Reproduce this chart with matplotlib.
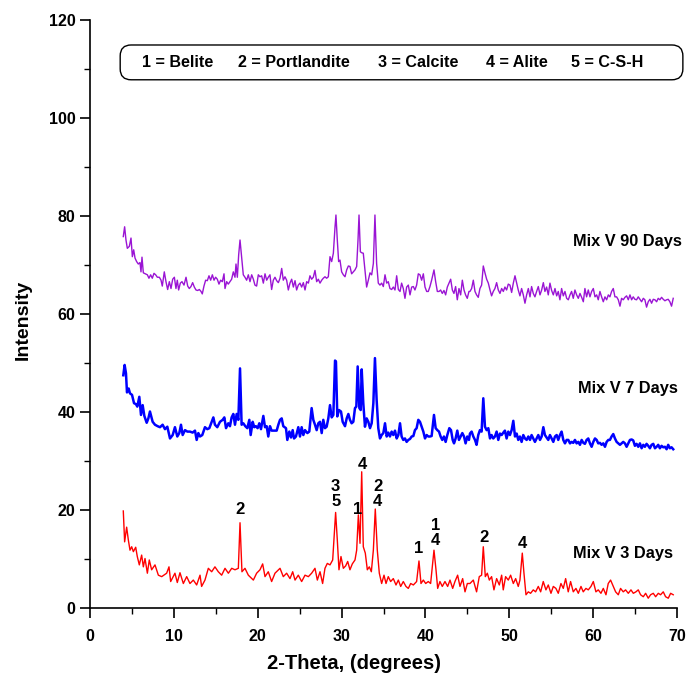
import matplotlib
matplotlib.use("Agg")
import matplotlib.pyplot as plt
from matplotlib.patches import FancyBboxPatch

plt.rcParams['font.family'] = ['Liberation Sans', 'DejaVu Sans']
plt.rcParams['font.weight'] = 'bold'

# ---- Mix V 3 days (red) ----
tt_3d = [3.97, 4.13, 4.37, 4.57, 4.77, 4.97, 5.17, 5.45, 5.64, 5.88, 6.16, 6.36, 6.56, 6.84, 7.07, 7.35, 7.75, 8.15, 8.55, 9.14,
         9.42, 9.62, 10.13, 10.41, 10.73, 11.13, 11.53, 11.92, 12.32, 12.72, 13.12, 13.31, 13.71, 14.11, 14.51, 14.9, 15.3, 15.7,
         16.1, 16.5, 16.9, 17.29, 17.69, 17.89, 18.12, 18.48, 18.88, 19.48, 19.87, 20.27, 20.59, 20.87, 21.26, 21.66, 22.06,
         22.66, 23.05, 23.45, 23.85, 24.17, 24.45, 24.84, 25.24, 25.64, 26.04, 26.43, 26.83, 27.11, 27.43, 27.74, 28.02, 28.3,
         28.62, 28.94, 29.29, 29.49, 29.69, 29.93, 30.21, 30.49, 30.73, 31.0, 31.28, 31.6, 31.8, 32.0, 32.2, 32.4, 32.59, 32.83,
         33.07, 33.31, 33.55, 33.79, 34.02, 34.26, 34.5, 34.78, 35.06, 35.3, 35.57, 35.85, 36.17, 36.49, 36.77, 37.05, 37.36,
         37.68, 37.96, 38.24, 38.56, 38.95, 39.23, 39.47, 39.75, 40.03, 40.34, 40.62, 41.02, 41.26, 41.46, 41.73, 42.01, 42.33,
         42.65, 42.93, 43.25, 43.52, 43.84, 44.12, 44.44, 44.72, 45.0,
         45.31, 45.71, 46.1, 46.42, 46.7, 46.9, 47.14, 47.38, 47.62, 47.89, 48.17, 48.49, 48.81, 49.09, 49.28, 49.56, 49.88,
         50.16, 50.48, 50.76, 51.07, 51.27, 51.55, 51.75, 51.99, 52.27, 52.54, 52.86, 53.14, 53.46, 53.74, 54.05, 54.37, 54.65,
         54.97, 55.25, 55.56, 55.84, 56.16, 56.44, 56.72, 57.03, 57.31, 57.63, 57.95, 58.23, 58.55, 58.82, 59.14, 59.42, 59.74,
         60.02, 60.33, 60.61, 60.93, 61.21, 61.53, 61.8, 62.08, 62.4, 62.68, 63.0, 63.27, 63.59, 63.87, 64.19, 64.51, 64.79,
         65.1, 65.38, 65.66, 65.98, 66.26, 66.57, 66.85, 67.17, 67.45, 67.77, 68.04, 68.36, 68.64, 68.96, 69.24, 69.55]
int_3d = [19.8, 13.5, 16.5, 13.9, 11.8, 12.5, 11.5, 12.4, 10.5, 8.8, 10.8, 8.4, 10.1, 7.1, 9.8, 7.8, 8.8, 6.7, 6.4, 7.1,
          8.4, 5.4, 7.1, 5.2, 7.2, 5.0, 6.4, 5.0, 5.7, 4.7, 6.7, 4.4, 5.7, 8.1, 7.4, 8.4, 7.4, 6.7,
          8.1, 7.1, 8.1, 7.8, 8.1, 17.4, 7.4, 8.1, 6.7, 5.7, 7.1, 7.8, 9.0, 6.4, 7.4, 5.4, 7.1,
          8.1, 6.4, 7.1, 6.0, 7.4, 5.7, 6.7, 5.4, 6.7, 6.4, 7.1, 8.1, 5.7, 7.4, 5.0, 8.1, 9.1,
          8.8, 9.8, 19.5, 13.9, 7.8, 10.5, 8.1, 8.6, 9.5, 7.8, 9.0, 9.8, 11.8, 19.0, 13.2, 27.8, 12.5, 11.2,
          7.8, 8.4, 7.4, 11.8, 20.2, 11.8, 7.1, 5.0, 6.7, 5.0, 6.4, 5.4, 6.0, 4.7, 5.7, 4.4, 5.4,
          4.4, 4.0, 5.0, 4.7, 5.4, 9.6, 5.0, 5.7, 5.0, 5.4, 5.0, 11.8, 7.8, 4.0, 5.4, 4.4, 5.4,
          4.4, 5.7, 4.0, 5.4, 6.7, 4.4, 6.0, 3.3, 5.0,
          5.0, 5.7, 3.3, 6.4, 6.7, 12.5, 6.4, 7.1, 5.7, 6.4, 3.7, 6.0, 4.7, 6.7, 3.7, 6.4, 5.7,
          6.7, 5.0, 6.0, 4.4, 5.7, 11.2, 7.1, 2.7, 3.3, 3.0, 3.7, 3.3, 4.4, 3.3, 5.4, 3.7, 4.7,
          3.0, 4.4, 4.0, 3.0, 5.0, 4.0, 6.0, 3.3, 5.4, 3.3, 4.0, 3.0, 4.4, 3.3, 4.0, 3.7, 4.4,
          5.4, 3.3, 3.7, 3.0, 4.0, 2.7, 5.0, 5.7, 4.4, 3.3, 2.7, 4.0, 3.3, 3.7, 3.0, 3.7, 3.0,
          3.3, 3.7, 2.7, 2.3, 3.0, 2.0, 2.7, 3.0, 2.3, 3.0, 2.7, 3.3, 2.3, 2.0, 3.0, 2.7]

# ---- Mix V 7 days (blue) ----
tt_7d = [3.97, 4.13, 4.29, 4.41, 4.61, 4.77, 5.01, 5.25, 5.48, 5.64, 5.88, 6.08, 6.28, 6.48, 6.76, 6.96, 7.15, 7.47, 7.75, 8.07,
         8.35, 8.66, 8.94, 9.22, 9.54, 9.86, 10.13, 10.41, 10.65, 10.85, 11.05, 11.33, 11.61, 11.92, 12.24, 12.52, 12.72, 12.92,
         13.12, 13.39, 13.71, 13.99, 14.23, 14.51, 14.71, 14.9, 15.18, 15.5, 15.82, 16.02, 16.22, 16.49, 16.69, 16.89, 17.09,
         17.29, 17.49, 17.69, 17.89, 18.08, 18.28, 18.52, 18.76, 19.0, 19.16, 19.4, 19.59, 19.79, 19.99, 20.19, 20.39, 20.67,
         20.87, 21.07, 21.26, 21.46, 21.66, 21.94, 22.26, 22.46,
         22.66, 22.86, 23.05, 23.37, 23.53, 23.77, 23.97, 24.17, 24.33, 24.56, 24.84, 25.04, 25.24, 25.44, 25.64, 25.92, 26.15,
         26.43, 26.63, 26.83, 27.03, 27.23, 27.43, 27.63, 27.82, 28.02, 28.22, 28.42, 28.62, 28.82, 29.02, 29.22, 29.33, 29.49,
         29.69, 29.93, 30.13, 30.41, 30.61, 30.81, 31.0, 31.2, 31.4, 31.6, 31.76, 31.92, 32.12, 32.28, 32.4, 32.59, 32.79, 32.99,
         33.19, 33.39, 33.59, 33.79, 33.98, 34.18, 34.38, 34.58, 34.78, 34.98, 35.18, 35.38, 35.57, 35.77, 35.97, 36.17, 36.37,
         36.57, 36.77, 36.97, 37.16, 37.36, 37.56, 37.76, 37.96, 38.16, 38.36, 38.56, 38.75, 38.95, 39.15, 39.35, 39.55, 39.75,
         39.95, 40.15, 40.34, 40.54, 40.74, 41.02, 41.22, 41.42, 41.62, 41.81, 42.01, 42.21, 42.41, 42.61, 42.85, 43.05, 43.25,
         43.41, 43.6, 43.8, 44.0, 44.2, 44.4, 44.6, 44.79, 44.99, 45.19]
int_7d = [47.5, 49.6, 47.9, 44.0, 44.8, 43.8, 43.5, 41.8, 41.6, 41.1, 43.1, 39.4, 41.4, 39.2, 37.8, 38.7, 40.1, 38.0, 37.4, 37.1,
          36.9, 37.4, 36.5, 37.0, 34.6, 35.3, 36.9, 35.0, 35.7, 37.4, 35.3, 36.3, 36.0, 36.0, 35.8, 36.2, 34.3, 35.7,
          35.0, 35.3, 36.9, 36.5, 36.7, 38.0, 38.9, 37.4, 36.9, 38.0, 38.4, 38.9, 36.7, 37.7, 37.1, 38.9, 39.6,
          37.4, 39.6, 38.4, 48.9, 37.4, 37.7, 37.1, 36.7, 38.4, 35.3, 38.0, 36.9, 37.1, 36.7, 37.7, 36.5, 39.2,
          36.9, 37.1, 35.0, 37.1, 36.2, 36.2, 36.2, 37.4,
          38.4, 38.7, 37.1, 36.7, 34.3, 36.0, 34.8, 36.3, 34.6, 35.0, 36.9, 35.0, 36.9, 35.3, 36.3, 35.7, 36.0,
          40.8, 38.4, 37.4, 36.3, 37.7, 38.0, 35.7, 38.4, 36.7, 37.0, 38.7, 41.4, 38.9, 39.4, 50.5, 50.3, 39.1,
          40.4, 40.1, 38.0, 37.1, 38.7, 39.6, 38.4, 37.7, 38.0, 40.8, 41.1, 49.3, 40.8, 40.4, 48.7, 41.8, 37.0, 38.7,
          38.0, 36.7, 37.7, 41.8, 51.0, 42.5, 36.7, 34.6, 35.3, 35.7, 37.7, 35.0, 35.8, 35.0, 36.0, 35.3, 36.2,
          34.6, 35.3, 37.7, 35.0, 34.3, 34.6, 33.9, 34.3, 34.5, 35.0, 35.1, 36.3, 36.7, 38.4, 38.0, 37.0, 36.0,
          34.6, 35.3, 35.0, 35.0, 35.1, 39.4, 36.7, 36.3, 36.0, 35.0, 34.3, 35.0, 33.9, 35.3, 36.7, 36.3, 34.3,
          33.6, 34.6, 36.2, 34.3, 35.0, 35.7, 35.0, 33.6, 35.0, 34.3]

# ---- Mix V 90 days (purple) ----
tt_90d = [3.97, 4.13, 4.29, 4.45, 4.69, 4.89, 5.05, 5.21, 5.37, 5.56, 5.76, 5.96, 6.08, 6.2, 6.36, 6.6, 6.84, 7.03, 7.23, 7.43,
          7.63, 7.83, 8.03, 8.27, 8.47, 8.62, 8.86, 9.06, 9.26, 9.46, 9.66, 9.86, 10.06, 10.25, 10.41, 10.57, 10.77, 10.97,
          11.21, 11.45, 11.65, 11.84, 12.04, 12.24, 12.44, 12.64, 12.84, 13.04, 13.24, 13.39, 13.59, 13.79, 13.99, 14.19,
          14.39, 14.59, 14.79, 14.98, 15.18, 15.38, 15.58, 15.78, 15.98, 16.1, 16.3, 16.49, 16.69, 16.89, 17.09, 17.29,
          17.41, 17.57, 17.73, 17.89, 18.08, 18.28, 18.48, 18.68, 18.88, 19.08, 19.28, 19.48, 19.67, 19.87, 20.07, 20.27,
          20.47, 20.67, 20.87, 21.07, 21.26, 21.46, 21.66, 21.86, 22.06, 22.26, 22.46,
          22.66, 22.86, 23.05, 23.25, 23.45, 23.65, 23.85, 24.05, 24.25, 24.45, 24.64, 24.84, 25.04, 25.24, 25.44, 25.64,
          25.84, 26.04, 26.23, 26.43, 26.63, 26.83, 27.03, 27.23, 27.43, 27.63, 27.82, 28.02, 28.22, 28.42, 28.62, 28.82,
          29.02, 29.22, 29.33, 29.49, 29.65, 29.81, 30.01, 30.21, 30.41, 30.61, 30.81, 31.0, 31.2, 31.4, 31.6, 31.8, 31.96,
          32.08, 32.24, 32.4, 32.59, 32.79, 32.99, 33.19, 33.39, 33.59, 33.79, 33.98, 34.18, 34.38, 34.58, 34.78, 34.98,
          35.18, 35.38, 35.57, 35.77, 35.97, 36.17, 36.37, 36.57, 36.77, 36.97, 37.16, 37.36, 37.56, 37.76, 37.96, 38.16,
          38.36, 38.56, 38.75, 38.95, 39.15, 39.35, 39.55, 39.75, 39.95, 40.15, 40.34, 40.54, 40.74, 41.02, 41.22, 41.42,
          41.62, 41.81, 42.01, 42.21, 42.41, 42.61, 42.81, 43.01, 43.21, 43.4, 43.6, 43.8, 44.0, 44.2, 44.4, 44.6, 44.79,
          44.99, 45.19]
int_90d = [75.8, 77.8, 75.1, 73.4, 73.8, 75.5, 71.7, 73.1, 71.4, 70.7, 70.2, 70.5, 68.6, 71.6, 68.4, 68.2, 68.0, 67.3, 68.0, 67.3,
           68.3, 68.0, 67.5, 67.5, 66.9, 65.7, 68.6, 66.6, 65.0, 66.6, 65.2, 67.1, 67.5, 65.2, 66.9, 64.9, 66.3, 66.6,
           65.9, 67.5, 65.7, 65.2, 65.6, 66.4, 65.5, 64.9, 64.8, 65.0, 64.6, 64.1, 65.7, 66.9, 66.8, 67.8,
           66.9, 68.0, 66.9, 67.5, 67.1, 66.1, 66.9, 66.6, 68.2, 65.2, 66.6, 66.1, 66.6, 67.1, 68.6, 67.5,
           70.2, 67.5, 72.1, 75.1, 71.7, 68.0, 67.5, 66.9, 68.0, 66.6, 68.0, 67.1, 65.9, 65.7, 68.0, 67.6,
           67.8, 66.3, 68.2, 66.9, 67.5, 68.0, 65.0, 66.9, 67.5, 66.8, 66.4,
           67.3, 69.3, 66.9, 67.6, 66.9, 64.9, 66.3, 67.1, 65.5, 66.8, 64.9, 65.9, 66.3, 65.5, 66.4, 64.9,
           66.6, 66.3, 67.8, 67.1, 67.5, 68.9, 66.6, 67.1, 66.3, 66.9, 67.3, 67.6, 67.3, 67.6, 71.7, 70.7,
           72.4, 77.8, 80.2, 75.1, 70.7, 71.0, 68.6, 68.0, 67.6, 69.0, 69.8, 69.7, 68.2, 68.6, 69.0, 69.7, 75.1,
           80.2, 72.7, 72.5, 72.4, 69.0, 65.5, 66.9, 68.4, 68.0, 70.3, 80.2, 70.3, 66.3, 65.9, 66.3, 65.6,
           68.0, 66.3, 66.6, 65.2, 65.0, 65.5, 64.9, 67.8, 65.0, 64.6, 66.3, 65.2, 63.2, 65.5, 65.9, 63.9,
           65.5, 65.6, 64.9, 65.9, 68.2, 68.0, 66.9, 68.2, 65.5, 64.6, 64.6, 65.6, 66.9, 69.0, 66.6, 64.6,
           64.6, 64.9, 64.2, 64.8, 63.9, 65.5, 66.3, 67.1, 64.9, 64.2, 65.6, 62.9, 65.2, 63.9, 66.9, 64.9,
           63.9, 63.2, 64.6]

# shared high-angle scan positions for the 7 and 90 day runs
tt_hi = [45.31, 45.51, 45.71, 45.91, 46.1, 46.3, 46.5, 46.7, 46.9, 47.1, 47.3, 47.5, 47.7, 47.89, 48.09, 48.29, 48.49, 48.69,
         48.89, 49.09, 49.29, 49.48, 49.68, 49.88, 50.08, 50.28, 50.48, 50.68, 50.88, 51.07, 51.27, 51.47, 51.67, 51.87,
         52.07, 52.27, 52.47, 52.66, 52.86, 53.06, 53.26, 53.46, 53.66, 53.86, 54.06, 54.25, 54.45, 54.65, 54.85, 55.05,
         55.25, 55.45, 55.65, 55.84, 56.04, 56.24, 56.44, 56.64, 56.84, 57.04, 57.24, 57.43, 57.63, 57.83, 58.03, 58.23,
         58.43, 58.63, 58.83, 59.02, 59.22, 59.42, 59.62, 59.82, 60.02, 60.22, 60.42, 60.61, 60.81, 61.01, 61.21, 61.41,
         61.61, 61.81, 62.0, 62.2, 62.4, 62.6, 62.8, 63.0, 63.2, 63.39, 63.59, 63.79, 63.99, 64.19, 64.39, 64.59, 64.78,
         64.98, 65.18, 65.38, 65.58, 65.78, 65.98, 66.17, 66.37, 66.57, 66.77, 66.97, 67.17, 67.37, 67.57, 67.76, 67.96,
         68.16, 68.36, 68.56, 68.76, 68.95, 69.15, 69.35, 69.55]
int_7d_hi = [35.6, 36.0, 35.0, 34.3, 33.3, 35.3, 36.3, 36.0, 42.8, 37.0, 36.3, 36.7, 34.6, 35.3, 34.6, 35.0, 36.0, 34.3,
             35.6, 35.3, 35.8, 36.2, 34.6, 36.0, 35.3, 36.3, 38.2, 35.0, 35.6, 34.3, 35.0, 33.9, 35.3, 34.6, 34.3, 35.0,
             34.3, 35.3, 34.6, 33.9, 34.6, 35.3, 34.3, 35.0, 36.9, 35.3, 34.8, 34.3, 35.3, 34.6, 33.9, 35.0, 35.3, 34.3,
             35.3, 36.0, 34.3, 33.6, 34.3, 34.3, 33.6, 33.9, 33.7, 34.3, 33.6, 33.9, 33.3, 34.3, 33.7, 33.5, 34.3, 34.6,
             33.6, 32.9, 33.9, 34.6, 34.3, 33.6, 33.7, 33.3, 33.6, 32.9, 33.9, 34.3, 34.3, 35.0, 35.5, 34.6, 33.9, 33.6,
             33.3, 33.6, 33.9, 33.6, 32.9, 33.6, 34.3, 34.4, 34.2, 33.1, 33.5, 32.9, 33.6, 32.6, 33.3, 32.9, 33.5, 33.1,
             32.6, 33.3, 33.5, 32.6, 32.9, 33.3, 32.6, 33.1, 32.8, 32.9, 32.4, 33.3, 32.6, 32.8, 32.4]
int_90d_hi = [64.6, 65.2, 66.9, 64.6, 63.9, 63.4, 65.2, 65.9, 69.8, 68.4, 67.1, 66.3, 64.9, 63.7, 64.6, 65.2, 66.4, 64.9,
              64.2, 65.2, 64.6, 65.5, 64.9, 66.1, 65.9, 64.4, 66.3, 67.8, 66.3, 64.9, 63.7, 65.2, 63.9, 62.2, 63.9, 65.2,
              63.5, 65.6, 64.2, 63.5, 64.6, 65.6, 63.9, 64.9, 66.4, 64.6, 65.5, 63.9, 66.3, 64.8, 63.9, 65.2, 63.7, 64.6,
              62.9, 65.2, 63.7, 64.6, 63.2, 62.9, 63.9, 64.6, 63.2, 64.9, 63.9, 63.2, 64.2, 63.4, 62.5, 65.2, 63.5, 64.9,
              63.5, 64.6, 65.2, 63.5, 63.9, 62.9, 64.6, 63.5, 62.5, 63.5, 62.9, 63.9, 63.5, 64.6, 65.2, 63.5, 63.5, 62.9,
              61.6, 63.2, 62.9, 63.4, 63.7, 62.9, 63.9, 62.9, 63.5, 63.0, 62.9, 63.5, 63.0, 62.5, 63.2, 62.9, 61.4, 62.5,
              63.0, 62.2, 63.0, 62.9, 62.5, 63.2, 62.9, 63.4, 63.0, 62.7, 62.9, 63.0, 62.5, 61.6, 63.2]

# peak labels on the 3 day pattern
peak_pos = [17.9, 29.3, 31.9, 32.5, 34.3, 39.2, 41.2, 47.0, 51.6]
peak_txt_y = [20.0, 23.2, 20.2, 29.2, 23.3, 12.2, 15.4, 14.3, 13.1]
peak_txt = ["2", "3\n5", "1", "4", "2\n4", "1", "1\n4", "2", "4"]

series_names = ["Mix V 90 Days", "Mix V 7 Days", "Mix V 3 Days"]
series_label_x = [70.6, 70.1, 69.5]
series_label_y = [74.7, 44.7, 11.2]

legend_items = ["1 = Belite", "2 = Portlandite", "3 = Calcite", "4 = Alite", "5 = C-S-H"]
legend_item_x = [6.2, 17.65, 34.3, 47.2, 57.3]

fig = plt.figure(figsize=(6.89, 6.75), dpi=100)
ax = fig.add_axes([90 / 689, 1 - 608 / 675, 587 / 689, 588 / 675])

ax.plot(tt_90d + tt_hi, int_90d + int_90d_hi, color="#9a14d4", lw=1.0)
ax.plot(tt_7d + tt_hi, int_7d + int_7d_hi, color="#0000ff", lw=1.8)
ax.plot(tt_3d, int_3d, color="#ff0000", lw=1.0)

for x, y, t in zip(peak_pos, peak_txt_y, peak_txt):
    ax.text(x, y, t, ha="center", va="center", fontsize=12, fontweight="bold", linespacing=1.0)

for name, x, y in zip(series_names, series_label_x, series_label_y):
    ax.text(x, y, name, ha="right", va="center", fontsize=11.8, fontweight="bold", clip_on=False)

# legend box (rounded rectangle) with the phase key
box = FancyBboxPatch((3.6, 107.8), 67.1, 7.1, boxstyle="round,pad=0,rounding_size=1.3",
                     mutation_aspect=8.386 / 4.9, fc="white", ec="black", lw=1.0,
                     transform=ax.transData, clip_on=False, zorder=3)
ax.add_patch(box)
for x, t in zip(legend_item_x, legend_items):
    ax.text(x, 111.3, t, ha="left", va="center", fontsize=11.6, fontweight="bold", zorder=4)

ax.set_xlim(0, 70)
ax.set_ylim(0, 120)
ax.set_xticks(range(0, 71, 10))
ax.set_xticks(range(5, 70, 10), minor=True)
ax.set_yticks(range(0, 121, 20))
ax.set_yticks(range(10, 120, 20), minor=True)
ax.tick_params(which="major", direction="out", length=7, width=1.2, labelsize=11.5)
ax.tick_params(which="minor", direction="out", length=4, width=1.0)
ax.tick_params(axis="x", which="major", pad=8)
for lab in ax.get_xticklabels() + ax.get_yticklabels():
    lab.set_fontweight("bold")

ax.spines["top"].set_visible(False)
ax.spines["right"].set_visible(False)
ax.spines["left"].set_linewidth(1.2)
ax.spines["bottom"].set_linewidth(1.2)

ax.set_xlabel("2-Theta, (degrees)", fontsize=14.5, fontweight="bold")
ax.xaxis.set_label_coords(0.45, -0.078)
ax.set_ylabel("Intensity", fontsize=14, fontweight="bold")
ax.yaxis.set_label_coords(-0.1, 0.49)

fig.savefig("out.png", dpi=100)
